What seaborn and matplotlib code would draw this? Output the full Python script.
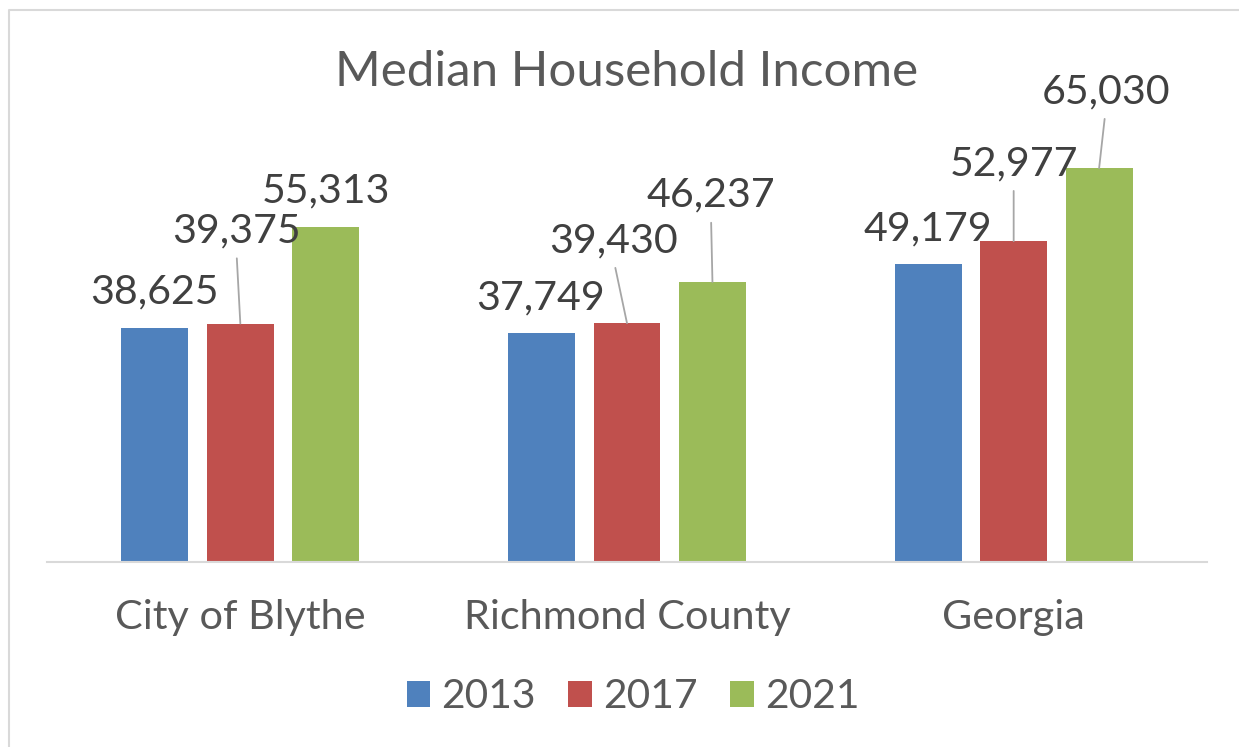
import matplotlib
matplotlib.use("Agg")
import matplotlib.pyplot as plt
from matplotlib.lines import Line2D
import seaborn as sns
import pandas as pd

# ---- data ----
regions = ["City of Blythe", "Richmond County", "Georgia"]
years = ["2013", "2017", "2021"]
income_2013 = [38625, 37749, 49179]
income_2017 = [39375, 39430, 52977]
income_2021 = [55313, 46237, 65030]
title = "Median Household Income"

# ---- style / layout ----
colors = ["#4F81BD", "#C0504D", "#9BBB59"]
# label text offsets (pixels) from bar top-centre: (dx, dy, leader line?)
label_layout = {
    "2013": [(-0.5, 25, False), (-0.5, 24, False), (0, 24, False)],
    "2017": [(-4, 81, True), (-13.5, 71, True), (0, 66, True)],
    "2021": [(0, 24, False), (-1.5, 75, True), (6.5, 65, True)],
}

rows = []
for yr, vals in zip(years, [income_2013, income_2017, income_2021]):
    for reg, v in zip(regions, vals):
        rows.append({"region": reg, "year": yr, "income": v})
df = pd.DataFrame(rows)

sns.set_theme(style="white")
plt.rcParams["font.family"] = ["Lato", "DejaVu Sans"]

W, H = 1239, 747
fig = plt.figure(figsize=(W / 100, H / 100), dpi=100)
ax = fig.add_axes([47 / W, (H - 562) / H, 1160 / W, 424 / H])

sns.barplot(data=df, x="region", y="income", hue="year", hue_order=years,
            order=regions, palette=colors, width=0.663, gap=0.217,
            errorbar=None, saturation=1, linewidth=0, ax=ax)

ax.set_xlim(-0.5, 2.5)
ax.set_ylim(0, 70000)
ax.set_xlabel("")
ax.set_ylabel("")
ax.set_yticks([])
for s in ["top", "right", "left"]:
    ax.spines[s].set_visible(False)
ax.spines["bottom"].set_color("#D9D9D9")
ax.spines["bottom"].set_linewidth(1.5)
ax.tick_params(axis="x", length=0, pad=27, labelsize=29.8, labelcolor="#595959")

# data labels
for cont, yr in zip(ax.containers, years):
    for bar, (dx, dy, leader) in zip(cont, label_layout[yr]):
        cx = bar.get_x() + bar.get_width() / 2
        h = bar.get_height()
        kw = {}
        if leader:
            kw["arrowprops"] = dict(arrowstyle="-", color="#A6A6A6", lw=1.3,
                                    relpos=(0.5, 0), shrinkA=4, shrinkB=0)
        ax.annotate(f"{int(h):,}", xy=(cx, h), xytext=(dx, dy),
                    textcoords="offset pixels", ha="center", va="baseline",
                    fontsize=29.6, color="#404040", **kw)

# legend
handles, labels = ax.get_legend_handles_labels()
if ax.legend_ is not None:
    ax.legend_.remove()
fig.legend(handles, labels, loc="center", bbox_to_anchor=(633 / W, 1 - 697 / H),
           ncol=3, frameon=False, fontsize=29.3, labelcolor="#595959",
           handlelength=0.58, handleheight=0.58, handletextpad=0.27,
           columnspacing=0.8)

# title
fig.text(627 / W, 1 - 86 / H, title, ha="center", va="baseline",
         fontsize=35.5, color="#595959")

# chart border (partially visible)
fig.add_artist(Line2D([9 / W, 9 / W, 1.0], [0.0, 1 - 10 / H, 1 - 10 / H],
                      transform=fig.transFigure, color="#D9D9D9", lw=1.5))

fig.savefig("out.png", dpi=100, facecolor="white")
